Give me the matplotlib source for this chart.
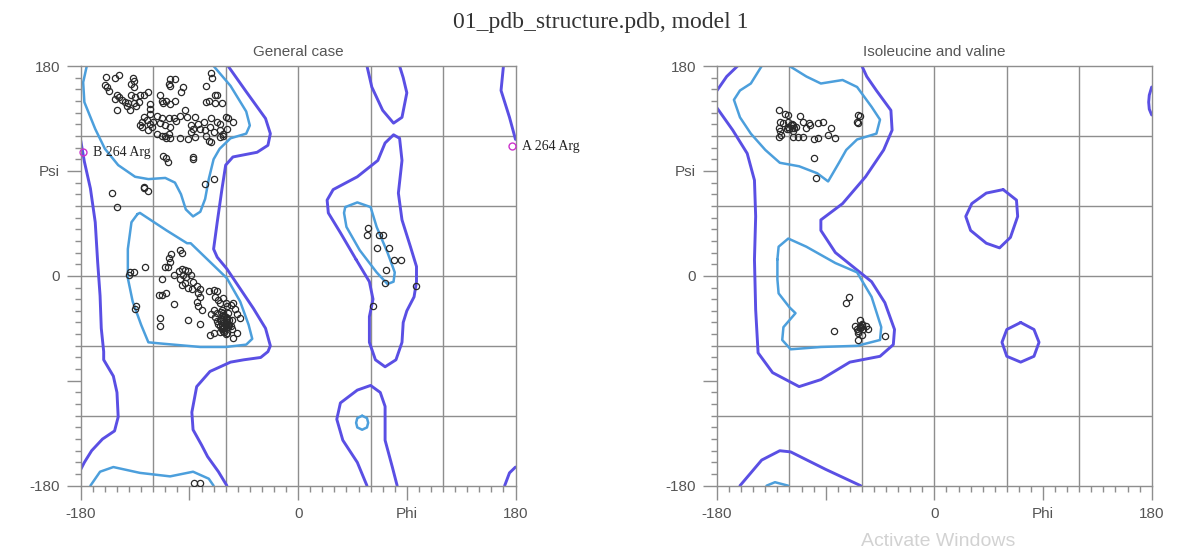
import matplotlib
matplotlib.use("Agg")
import matplotlib.pyplot as plt
from matplotlib.ticker import MultipleLocator

# ---- data (phi, psi in degrees) ----
# General case: residues
gen_phi = [-159, -152, -148, -137, -136, -138, -136, -160, -158, -157, -106, -102, -107, -106, -95, -97,
           -72, -71, -76, -69, -67, -150, -148, -152, -146, -143, -141, -142, -138, -135, -131, -128,
           -124, -132, -134, -136, -123, -123, -114, -113, -112, -109, -102, -106, -76, -74, -69, -63,
           -150, -139, -123, -98, -94, -92, -103, -107, -113, -117, -128, -129, -125, -123, -120, -131,
           -129, -124, -121, -114, -110, -106, -101, -85, -83, -78, -72, -67, -65, -60, -58, -54,
           -89, -87, -89, -81, -77, -73, -70, -65, -62, -59, -76, -74, -72, -65, -62, -117, -113,
           -110, -107, -106, -109, -91, -85, -98, -112, -109, -108, -87, -87, -128, -124, -154, -77,
           -70, -150, -128,
           -98, -96, -105, -107, -106, -110, -127, -136, -140, -139, -113, -103, -99, -96, -94, -91,
           -89, -95, -93, -98, -96, -94, -91, -87, -84, -88, -81, -83, -81, -84, -83, -80, -109, -113,
           -103, -134, -135, -114, -114, -91, -81, -74, -70, -67, -69, -66, -65, -62, -60, -59, -56,
           -54, -52, -70, -72, -69, -67, -65, -62, -63, -60, -58, -55, -51, -48, -55, -59, -65, -70,
           -73, -51, -54, -62, -58, -63, -67, -59, -56, -60, -62, -65, -63, -61, -64, -60, -57, -62,
           -64, -58, -61, -66, -59, -63, -60, -57, -62, -59, -61, -64, -108, -115,
           -86, -81,
           58, 57, 67, 70, 65, 75, 79, 85, 73, 72, 98, 62]
gen_psi = [171, 170, 172, 170, 167, 165, 162, 164, 162, 159, 169, 169, 165, 163, 162, 158,
           174, 170, 163, 155, 155, 155, 153, 152, 151, 149, 148, 146, 155, 153, 155, 155,
           158, 149, 146, 148, 147, 143, 155, 150, 148, 150, 150, 147, 149, 150, 148, 148,
           142, 142, 139, 137, 142, 136, 135, 135, 135, 137, 136, 132, 134, 130, 132, 129,
           128, 125, 128, 131, 129, 128, 133, 136, 130, 132, 135, 132, 130, 136, 135, 132,
           129, 126, 123, 126, 125, 128, 123, 125, 122, 126, 120, 116, 115, 119, 120, 122, 120,
           120, 122, 118, 118, 117, 119, 118, 103, 101, 98, 102, 100, 75, 73, 71, 79,
           83, 59, 76,
           22, 20, 19, 15, 12, 8, 8, 3, 1, 3, -3, 1, 4, 6, 5, 4,
           1, 1, -1, -3, -8, -6, -10, -5, -9, -11, -11, -15, -18, -22, -26, -29, -15, -16,
           -24, -26, -28, -36, -43, -38, -41, -13, -12, -13, -18, -21, -23, -19, -23, -26, -25,
           -23, -28, -29, -33, -35, -39, -38, -35, -42, -43, -41, -38, -33, -36, -46, -49, -48, -49,
           -51, -49, -53, -32, -32, -29, -32, -38, -43, -41, -45, -43, -46, -40, -37, -35, -42, -47,
           -39, -44, -48, -41, -36, -45, -50, -38, -34, -40, -44, -31, 8, -16,
           -178, -178,
           41, 35, 35, 35, 24, 24, 14, 14, 5, -6, -9, -26]
gen_outlier_phi = [-178, 177]
gen_outlier_psi = [106, 111]
gen_outlier_labels = ["B 264 Arg", "A 264 Arg"]

# General case: contour outlines
gen_allowed = [
    ([-58, -43, -27, -23, -25, -34, -54, -60, -63, -67, -70, -67, -59, -48, -37, -27, -23, -25, -31,
      -45, -56, -73, -84, -88, -87, -80, -75, -66, -59],
     [180, 158, 135, 122, 112, 106, 102, 95, 75, 46, 23, 16, 6, -11, -28, -45, -60, -65, -70,
      -72, -74, -82, -95, -117, -132, -145, -155, -168, -180]),
    ([-180, -177, -172, -168, -166, -164, -163, -161, -161, -153, -150, -149, -152, -162, -171, -177, -180],
     [116, 98, 75, 46, 12, -17, -45, -65, -72, -86, -100, -121, -133, -140, -150, -160, -166]),
    ([170, 168, 175, 180], [180, 159, 136, 117]),
    ([171, 175, 180], [-180, -169, -164]),
    ([57, 61, 70, 79, 86, 90, 87, 84], [180, 162, 142, 131, 136, 157, 170, 180]),
    ([57, 49, 37, 32, 35, 49, 60, 68, 72, 72, 78, 82], [-180, -160, -141, -123, -109, -98, -94, -100, -112, -141, -164, -180]),
    ([48, 59, 62, 59, 59, 64, 72, 81, 86, 87, 90, 96, 98, 98, 93, 86, 83, 86, 84, 79, 72, 66, 49, 29, 24, 25, 35, 48],
     [14, -5, -20, -35, -57, -72, -78, -72, -57, -40, -30, -18, -5, 8, 25, 48, 71, 99, 118, 121, 114, 99, 85, 74, 65, 54, 37, 14]),
]
gen_favoured = [
    ([-175, -178, -177, -168, -160, -149, -135, -124, -110, -102, -97, -93, -87, -81, -77, -74, -70, -65,
      -56, -43, -40, -43, -56, -70],
     [180, 166, 149, 126, 109, 95, 85, 83, 84, 80, 70, 57, 51, 55, 66, 83, 100, 109,
      118, 122, 129, 141, 163, 180]),
    ([-172, -164, -153, -131, -106, -87, -74, -70], [-180, -168, -164, -169, -172, -168, -174, -180]),
    ([-133, -131, -109, -92, -89, -73, -59, -48, -41, -38, -43, -60, -81, -114, -124, -130, -137, -141, -141, -138, -133],
     [53, 54, 39, 28, 28, 12, -2, -22, -42, -54, -59, -61, -61, -58, -57, -42, -22, -2, 23, 46, 53]),
    ([39, 49, 60, 65, 74, 80, 79, 74, 65, 51, 40, 38, 39], [59, 63, 59, 42, 20, 3, -5, -7, 3, 22, 42, 54, 59]),
    ([53, 57, 58, 57, 53, 49, 48, 49, 53], [-120, -122, -126, -130, -132, -130, -126, -122, -120]),
]

# Isoleucine and valine: residues
iv_phi = [-129, -124, -121, -128, -125, -121, -117, -118, -115, -111, -109, -104, -106, -103, -96, -92,
          -129, -128, -129, -127, -117, -117, -113, -109, -100, -96, -86, -88, -82, -100, -98,
          -63, -62, -64, -63, -121, -119, -120, -118, -122, -116,
          -71, -73, -83, -62, -64, -60, -59, -63, -57, -55, -66, -62, -60, -63, -41, -62, -61, -63, -60]
iv_psi = [142, 139, 138, 132, 131, 132, 129, 127, 128, 137, 132, 131, 127, 129, 131, 132,
          127, 124, 119, 121, 124, 119, 119, 119, 117, 118, 127, 121, 118, 101, 84,
          138, 137, 132, 131, 128, 129, 126, 130, 126, 127,
          -18, -23, -47, -43, -46, -41, -46, -49, -43, -46, -43, -38, -51, -55, -52, -45, -44, -47, -42]

iv_allowed = [
    ([-180, -167, -155, -149, -148, -149, -148, -146, -134, -112, -94, -70, -45, -34, -33, -41, -52, -64,
      -82, -94, -94, -76, -57, -42, -35, -36, -48, -56, -60],
     [144, 125, 105, 82, 51, 14, -29, -66, -83, -95, -89, -74, -69, -59, -46, -23, -5, 5,
      20, 39, 48, 62, 85, 108, 125, 142, 159, 171, 180]),
    ([-180, -172, -163], [159, 171, 180]),
    ([-161, -143, -128, -119, -90, -61], [-180, -158, -150, -151, -166, -180]),
    ([57, 68, 69, 63, 54, 43, 30, 26, 31, 43, 57], [74, 65, 51, 33, 24, 28, 39, 51, 62, 71, 74]),
    ([71.5, 82.5, 86.7, 82.5, 71.5, 60, 56, 60, 71.5], [-40, -46, -57, -69, -74, -69, -57, -46, -40]),
    ([180, 178, 177.5, 178, 180], [162, 155, 149, 143, 138]),
]
iv_favoured = [
    ([-143, -152, -161, -166, -161, -152, -140, -128, -112, -97, -88, -79, -73, -64, -48, -45, -52,
      -64, -76, -94, -106, -120],
     [180, 165, 159, 151, 136, 122, 108, 97, 94, 88, 81, 97, 108, 117, 122, 134, 145,
      162, 168, 165, 171, 180]),
    ([-139, -132, -121], [-180, -177, -180]),
    ([-130, -130, -129, -120, -115, -125, -126, -119, -94, -64, -45, -44, -52, -64, -82, -106, -121, -129, -130],
     [14, -3, -15, -27, -32, -44, -55, -63, -61, -60, -55, -44, -18, 3, 11, 25, 32, 25, 14]),
]

panel_titles = ["General case", "Isoleucine and valine"]
x_ticks = [-180, -90, 0, 90, 180]
x_ticklabels = ["-180", "", "0", "Phi", "180"]
y_ticks = [180, 90, 0, -90, -180]
y_ticklabels = ["180", "Psi", "0", "", "-180"]
grid_pos = [-120, -60, 0, 60, 120]

# ---- style ----
DARK = "#5a4fe4"
LIGHT = "#4c9fdc"
GRID = "#8e8e8e"
TXT = "#555555"
plt.rcParams["font.family"] = ["Liberation Sans", "DejaVu Sans"]

fig = plt.figure(figsize=(11.77, 5.52), dpi=100)
ax1 = fig.add_axes([0.0686, 0.1201, 0.3694, 0.7603])
ax2 = fig.add_axes([0.6092, 0.1201, 0.3693, 0.7603])


def setup(ax, title):
    ax.set_xlim(-180, 180)
    ax.set_ylim(-180, 180)
    for g in grid_pos:
        ax.axvline(g, color=GRID, lw=1.0, zorder=0)
        ax.axhline(g, color=GRID, lw=1.0, zorder=0)
    for s in ax.spines.values():
        s.set_color(GRID)
        s.set_linewidth(1.0)
    ax.set_xticks(x_ticks)
    ax.set_xticklabels(x_ticklabels)
    ax.set_yticks(y_ticks)
    ax.set_yticklabels(y_ticklabels)
    ax.xaxis.set_minor_locator(MultipleLocator(10))
    ax.yaxis.set_minor_locator(MultipleLocator(10))
    ax.tick_params(which="major", length=10, width=1, color=GRID, labelsize=11,
                   labelcolor=TXT, pad=5)
    ax.tick_params(which="minor", length=4.5, width=1, color=GRID)
    ax.set_title(title, fontsize=11, color=TXT, pad=7)


def draw_lines(ax, lines, color, lw):
    for xs, ys in lines:
        ax.plot(xs, ys, color=color, lw=lw, solid_capstyle="round",
                solid_joinstyle="round", zorder=2)


setup(ax1, panel_titles[0])
draw_lines(ax1, gen_allowed, DARK, 2.1)
draw_lines(ax1, gen_favoured, LIGHT, 1.8)
ax1.plot(gen_phi, gen_psi, "o", mfc="none", mec="#2a2a2a", ms=4.5, mew=0.9, zorder=3)
ax1.plot(gen_outlier_phi, gen_outlier_psi, "o", mfc="none", mec="#cc33cc", ms=5, mew=1.0,
         zorder=4, clip_on=False)
for x, y, lab in zip(gen_outlier_phi, gen_outlier_psi, gen_outlier_labels):
    ax1.annotate(lab, (x, y), xytext=(7, 0), textcoords="offset points", va="center",
                 ha="left", fontsize=10, family=["Liberation Serif", "DejaVu Serif"],
                 color="#222222", annotation_clip=False)

setup(ax2, panel_titles[1])
draw_lines(ax2, iv_allowed, DARK, 2.1)
draw_lines(ax2, iv_favoured, LIGHT, 1.8)
ax2.plot(iv_phi, iv_psi, "o", mfc="none", mec="#2a2a2a", ms=4.5, mew=0.9, zorder=3)

fig.text(0.51, 0.96, "01_pdb_structure.pdb, model 1", ha="center", va="center", fontsize=17,
         family=["Liberation Serif", "DejaVu Serif"], color="#333333")
fig.text(0.797, 0.004, "Activate Windows", ha="center", va="bottom", fontsize=14,
         color="#d2d2d2")

fig.savefig("out.png", dpi=100)
